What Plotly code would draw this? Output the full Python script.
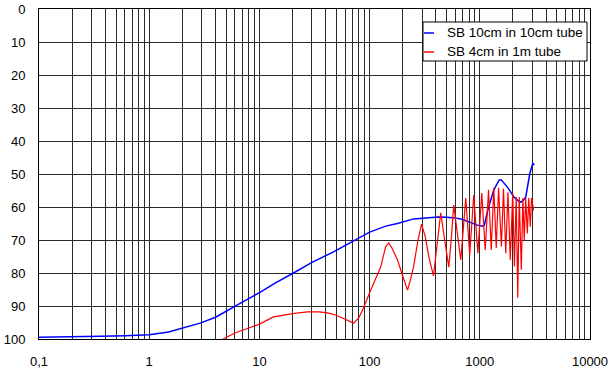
import plotly.graph_objects as go

# Blue: SB 10cm in 10cm tube
blue_f = [0.1, 0.2, 0.36, 0.6, 1.0, 1.5, 2.04, 2.9, 4, 5.1, 7, 10.2, 14, 20.4, 30, 47, 70, 100,
          140, 179, 251, 330, 418, 500, 600, 700, 830, 950, 1050, 1100, 1180, 1340, 1500, 1570,
          1680, 1800, 2040, 2200, 2340, 2450, 2610, 2750, 2850, 3030, 3120]
blue_y = [99.5, 99.4, 99.2, 99.0, 98.7, 97.9, 96.7, 95.2, 93.4, 91.5, 88.8, 85.8, 83.0, 80.0, 76.8,
          73.6, 70.3, 67.6, 65.8, 65.0, 63.6, 63.2, 63.0, 63.1, 63.3, 63.8, 64.8, 65.5, 65.8, 65.5,
          61.0, 54.8, 51.8, 51.8, 53.0, 54.2, 57.0, 58.0, 58.5, 58.2, 57.0, 52.5, 49.7, 46.7, 47.3]

# Red: SB 4cm in 1m tube
red_f = [4.5, 4.7, 6, 8.3, 10, 13.4, 20, 27.3, 35, 41.5, 50, 60, 71.6, 80, 88, 100, 126, 140, 149,
         160, 179, 200, 221, 235, 251, 275, 296, 320, 344, 380, 405, 433, 442, 480, 523, 550, 580,
         620, 672, 746, 810, 881, 960, 1042, 1120, 1200, 1270, 1340, 1410, 1480, 1570, 1640,
         1720, 1800, 1890, 1990, 2060, 2140, 2210, 2280, 2380, 2460, 2530, 2610, 2700, 2780,
         2870, 2950, 3080]
red_y = [100.6, 100.0, 98.2, 96.4, 95.5, 93.3, 92.3, 91.8, 91.8, 92.1, 92.8, 94.0, 95.2, 93.5, 90.6,
         86.0, 78.2, 72.0, 70.9, 72.5, 76.0, 81.0, 85.2, 82.0, 78.0, 70.0, 65.2, 69.0, 75.0, 80.9,
         72.0, 62.5, 61.8, 70.0, 78.2, 70.0, 59.4, 67.0, 76.0, 57.3, 74.5, 56.4, 74.0, 55.8, 73.0,
         54.8, 73.0, 54.2, 72.4, 54.2, 72.0, 54.5, 74.0, 55.5, 76.0, 55.8, 78.0, 57.0, 87.5, 57.0,
         79.0, 57.3, 70.0, 57.3, 68.0, 57.3, 66.0, 57.3, 61.0]

series_names = ["SB 10cm in 10cm tube", "SB 4cm in 1m tube"]
series_colors = ["#0000FF", "#FF0000"]

x_decades = [0.1, 1, 10, 100, 1000, 10000]
x_labels = ["0,1", "1", "10", "100", "1000", "10000"]
y_ticks = [0, 10, 20, 30, 40, 50, 60, 70, 80, 90, 100]

# grid positions: every 1..9 multiple in each decade
xt_vals, xt_text = [], []
for d, lab in zip(x_decades, x_labels):
    xt_vals.append(d)
    xt_text.append(lab)
    if d < 10000:
        for m in range(2, 10):
            xt_vals.append(d * m)
            xt_text.append("")

FONT = "Arial, 'Liberation Sans', sans-serif"

fig = go.Figure()
fig.add_trace(go.Scatter(x=blue_f, y=blue_y, mode="lines", name=series_names[0],
                         line=dict(color=series_colors[0], width=1.5)))
fig.add_trace(go.Scatter(x=red_f, y=red_y, mode="lines", name=series_names[1],
                         line=dict(color=series_colors[1], width=1.2)))

# Legend box drawn in paper coordinates (Excel-style short legend keys)
LEG_X0, LEG_X1, LEG_Y0, LEG_Y1 = 0.6969, 0.9946, 0.8424, 0.9606
ROW_Y = [0.9273, 0.8697]
KEY_X0, KEY_X1, TXT_X = 0.6987, 0.7169, 0.7370
shapes = [dict(type="rect", xref="paper", yref="paper", x0=LEG_X0, x1=LEG_X1, y0=LEG_Y0, y1=LEG_Y1,
               line=dict(color="black", width=1), fillcolor="white", layer="above")]
annotations = []
for name, col, ry in zip(series_names, series_colors, ROW_Y):
    shapes.append(dict(type="line", xref="paper", yref="paper", x0=KEY_X0, x1=KEY_X1, y0=ry, y1=ry,
                       line=dict(color=col, width=1.5), layer="above"))
    annotations.append(dict(xref="paper", yref="paper", x=TXT_X, y=ry, text=name, showarrow=False,
                            xanchor="left", yanchor="middle",
                            font=dict(family=FONT, size=13.5, color="black")))

fig.update_layout(
    width=610, height=371,
    margin=dict(l=39, r=20, t=9, b=32),
    paper_bgcolor="white", plot_bgcolor="white",
    font=dict(family=FONT, size=13, color="black"),
    showlegend=False,
    shapes=shapes, annotations=annotations,
    xaxis=dict(type="log", range=[-1, 4], tickvals=xt_vals, ticktext=xt_text,
               showgrid=True, gridcolor="#2a2a2a", gridwidth=1,
               showline=True, linecolor="black", linewidth=1, mirror=True,
               ticks="", ticklabelstandoff=10, zeroline=False, automargin=False),
    yaxis=dict(range=[100, 0], tickvals=y_ticks,
               showgrid=True, gridcolor="#2a2a2a", gridwidth=1,
               showline=True, linecolor="black", linewidth=1, mirror=True,
               ticks="", ticklabelstandoff=10, zeroline=False, automargin=False),
)

fig.write_html("out.html", config={"displayModeBar": False},
               post_script="document.body.style.margin='0';document.body.style.overflow='hidden';")
